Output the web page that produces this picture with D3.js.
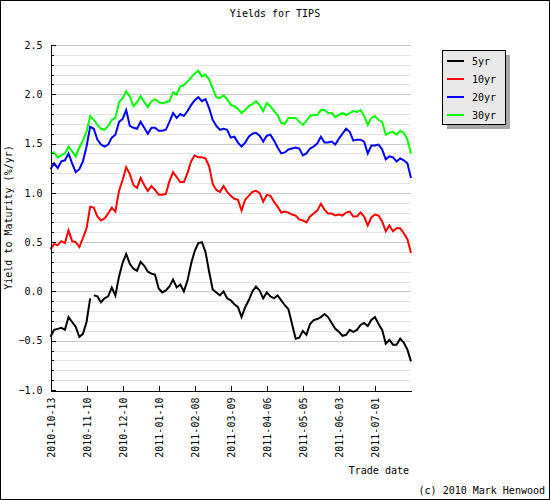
<!DOCTYPE html>
<html>
<head>
<meta charset="utf-8">
<script src="https://cdnjs.cloudflare.com/ajax/libs/d3/7.8.5/d3.min.js"></script>
<style>
body { margin: 0; background: #fff; }
text { font-family: "DejaVu Sans Mono", monospace; font-size: 10px; fill: #000; }
</style>
</head>
<body>
<svg id="chart" width="550" height="500"></svg>
<script>
// one sample every second trading day, tick label every 10 samples
var tickLabels = ["2010-10-13", "2010-11-10", "2010-12-10", "2011-01-10", "2011-02-08",
    "2011-03-09", "2011-04-06", "2011-05-05", "2011-06-03", "2011-07-01"];

var seriesNames = ["5yr", "10yr", "20yr", "30yr"];
var seriesColors = ["#000000", "#ff0000", "#0000ff", "#00ff00"];

var yr5 = [
    -0.46, -0.39, -0.38, -0.37, -0.39, -0.26, -0.31, -0.36, -0.46, -0.43,
    -0.31, -0.07, -0.04, -0.05, -0.11, -0.07, -0.05, 0.04, -0.04, 0.15,
    0.29, 0.38, 0.28, 0.23, 0.21, 0.30, 0.26, 0.20, 0.18, 0.17,
    0.03, -0.01, 0.01, 0.05, 0.12, 0.04, 0.07, 0.00, 0.11, 0.28,
    0.41, 0.49, 0.50, 0.40, 0.20, 0.02, -0.01, -0.04, 0.00, -0.07,
    -0.09, -0.13, -0.16, -0.26, -0.16, -0.09, 0.00, 0.05, 0.01, -0.07,
    -0.01, -0.05, -0.07, -0.04, -0.09, -0.14, -0.18, -0.33, -0.48, -0.47,
    -0.40, -0.44, -0.33, -0.29, -0.28, -0.26, -0.23, -0.26, -0.32, -0.38,
    -0.41, -0.45, -0.44, -0.39, -0.41, -0.39, -0.34, -0.32, -0.35, -0.29,
    -0.26, -0.33, -0.39, -0.53, -0.49, -0.54, -0.54, -0.48, -0.52, -0.59,
    -0.71
];
// missing quote in the 5yr data (between samples)
var yr5Missing = [11.5];

var yr10 = [
    0.43, 0.48, 0.47, 0.51, 0.49, 0.62, 0.51, 0.50, 0.45, 0.54,
    0.64, 0.86, 0.85, 0.76, 0.72, 0.74, 0.79, 0.85, 0.81, 1.02,
    1.13, 1.26, 1.19, 1.08, 1.05, 1.15, 1.08, 1.02, 1.07, 1.03,
    0.98, 0.98, 0.99, 1.12, 1.21, 1.16, 1.11, 1.11, 1.20, 1.32,
    1.38, 1.36, 1.36, 1.35, 1.27, 1.09, 1.03, 1.01, 1.07, 1.01,
    0.97, 0.94, 0.93, 0.82, 0.93, 0.97, 1.01, 1.02, 1.00, 0.91,
    0.98, 0.97, 0.91, 0.86, 0.80, 0.81, 0.80, 0.78, 0.77, 0.73,
    0.72, 0.70, 0.76, 0.79, 0.82, 0.89, 0.83, 0.79, 0.79, 0.77,
    0.78, 0.77, 0.80, 0.81, 0.76, 0.76, 0.80, 0.76, 0.67, 0.75,
    0.78, 0.77, 0.71, 0.61, 0.67, 0.61, 0.64, 0.64, 0.59, 0.53,
    0.39
];

var yr20 = [
    1.24, 1.30, 1.25, 1.32, 1.33, 1.40, 1.30, 1.21, 1.24, 1.32,
    1.47, 1.67, 1.65, 1.54, 1.49, 1.47, 1.49, 1.56, 1.59, 1.72,
    1.75, 1.84, 1.68, 1.66, 1.65, 1.72, 1.66, 1.60, 1.66, 1.66,
    1.63, 1.63, 1.64, 1.72, 1.81, 1.76, 1.80, 1.78, 1.83, 1.89,
    1.94, 1.97, 1.93, 1.95, 1.86, 1.74, 1.68, 1.64, 1.65, 1.64,
    1.56, 1.57, 1.51, 1.47, 1.51, 1.57, 1.60, 1.61, 1.58, 1.52,
    1.58, 1.59, 1.53, 1.46, 1.40, 1.41, 1.44, 1.45, 1.46, 1.45,
    1.38, 1.40, 1.45, 1.47, 1.50, 1.57, 1.51, 1.51, 1.52, 1.49,
    1.55, 1.60, 1.65, 1.62, 1.53, 1.54, 1.54, 1.52, 1.40, 1.48,
    1.48, 1.49, 1.44, 1.34, 1.37, 1.36, 1.32, 1.35, 1.33, 1.30,
    1.15
];

var yr30 = [
    1.40, 1.41, 1.36, 1.38, 1.40, 1.47, 1.42, 1.37, 1.46, 1.53,
    1.62, 1.78, 1.74, 1.69, 1.65, 1.64, 1.68, 1.74, 1.76, 1.92,
    1.96, 2.03, 1.98, 1.88, 1.92, 1.98, 1.92, 1.87, 1.93, 1.95,
    1.92, 1.91, 1.92, 1.93, 2.02, 2.00, 2.08, 2.09, 2.13, 2.17,
    2.21, 2.24, 2.18, 2.20, 2.15, 2.06, 1.97, 1.96, 1.99, 1.95,
    1.89, 1.88, 1.85, 1.81, 1.84, 1.88, 1.90, 1.93, 1.89, 1.83,
    1.91, 1.88, 1.83, 1.79, 1.71, 1.70, 1.76, 1.76, 1.76, 1.72,
    1.69, 1.73, 1.78, 1.79, 1.79, 1.84, 1.84, 1.81, 1.81, 1.77,
    1.79, 1.81, 1.79, 1.81, 1.83, 1.82, 1.84, 1.78, 1.69, 1.76,
    1.78, 1.74, 1.72, 1.59, 1.61, 1.62, 1.59, 1.63, 1.61, 1.54,
    1.40
];

var yMajor = [-1.0, -0.5, 0.0, 0.5, 1.0, 1.5, 2.0, 2.5];

var svg = d3.select("#chart"),
    width = +svg.attr("width"),
    height = +svg.attr("height");

svg.append("rect")
    .attr("x", 0.5).attr("y", 0.5)
    .attr("width", width - 1).attr("height", height - 1)
    .attr("fill", "#fff").attr("stroke", "#000");

var x = d3.scaleLinear().domain([0, yr5.length - 1]).range([50.5, 411]);
var y = d3.scaleLinear().domain([-1, 2.5]).range([390, 45]);

var yMinor = d3.range(-10, 26).map(function (d) { return d / 10; });

// grid
svg.append("g")
    .selectAll("line")
    .data(yMinor.filter(function (d) { return d > -1; }))
    .enter().append("line")
    .attr("x1", x.range()[0]).attr("x2", x.range()[1])
    .attr("y1", function (d) { return Math.round(y(d)) + 0.5; })
    .attr("y2", function (d) { return Math.round(y(d)) + 0.5; })
    .attr("stroke", function (d) {
        return Math.round(d * 10) % 5 === 0 ? "#c8c8c8" : "#e4e4e4";
    })
    .attr("shape-rendering", "crispEdges");

// series
var line = d3.line()
    .defined(function (d) { return d.v !== null; })
    .x(function (d) { return x(d.i); })
    .y(function (d) { return y(d.v); });

function toPoints(vals, missing) {
    var pts = vals.map(function (v, i) { return {i: i, v: v}; });
    (missing || []).forEach(function (m) { pts.push({i: m, v: null}); });
    return pts.sort(function (a, b) { return a.i - b.i; });
}

var series = [toPoints(yr5, yr5Missing), toPoints(yr10), toPoints(yr20), toPoints(yr30)];

svg.append("g")
    .selectAll("path")
    .data(series)
    .enter().append("path")
    .attr("d", line)
    .attr("fill", "none")
    .attr("stroke", function (d, i) { return seriesColors[i]; })
    .attr("stroke-width", 2)
    .attr("stroke-linejoin", "miter");

// axes
var yAxisMinor = svg.append("g")
    .attr("transform", "translate(50.5,0)")
    .call(d3.axisLeft(y)
        .tickValues(yMinor)
        .tickSizeInner(-3)
        .tickSizeOuter(0)
        .tickFormat(""));
yAxisMinor.select(".domain").remove();
yAxisMinor.selectAll("line").attr("shape-rendering", "crispEdges");

var yAxis = svg.append("g")
    .attr("transform", "translate(50.5,0)")
    .call(d3.axisLeft(y)
        .tickValues(yMajor)
        .tickSizeInner(-5)
        .tickSizeOuter(0)
        .tickPadding(8)
        .tickFormat(d3.format(".1f")));
yAxis.selectAll("text")
    .style("font-family", "DejaVu Sans Mono")
    .style("font-size", "10px");
yAxis.selectAll("line, path").attr("shape-rendering", "crispEdges");

var xAxis = svg.append("g")
    .attr("transform", "translate(0,390.5)")
    .call(d3.axisBottom(x)
        .tickValues(d3.range(0, 100, 10))
        .tickSizeInner(-5)
        .tickSizeOuter(0)
        .tickFormat(function (d, i) { return tickLabels[i]; }));
xAxis.selectAll("text")
    .style("font-family", "DejaVu Sans Mono")
    .style("font-size", "10px")
    .style("text-anchor", "end")
    .attr("transform", "rotate(-90)")
    .attr("x", -7)
    .attr("y", 0)
    .attr("dy", "0.35em");
xAxis.selectAll("line, path").attr("shape-rendering", "crispEdges");

// labels
svg.append("text")
    .attr("x", 275).attr("y", 17)
    .attr("text-anchor", "middle")
    .text("Yields for TIPS");

svg.append("text")
    .attr("transform", "translate(12," + ((y.range()[0] + y.range()[1]) / 2) + ") rotate(-90)")
    .attr("text-anchor", "middle")
    .text("Yield to Maturity (%/yr)");

svg.append("text")
    .attr("x", 409).attr("y", 474)
    .attr("text-anchor", "end")
    .text("Trade date");

svg.append("text")
    .attr("x", 545).attr("y", 494)
    .attr("text-anchor", "end")
    .text("(c) 2010 Mark Henwood");

// legend
var legend = svg.append("g").attr("transform", "translate(442,50)");

legend.append("rect")
    .attr("x", 4.5).attr("y", 4.5)
    .attr("width", 63).attr("height", 74)
    .attr("fill", "#a8a8a8")
    .attr("shape-rendering", "crispEdges");

legend.append("rect")
    .attr("x", 0.5).attr("y", 0.5)
    .attr("width", 63).attr("height", 74)
    .attr("fill", "#e8e8e8")
    .attr("stroke", "#000")
    .attr("shape-rendering", "crispEdges");

var entry = legend.selectAll(".entry")
    .data(seriesNames)
    .enter().append("g")
    .attr("class", "entry")
    .attr("transform", function (d, i) { return "translate(0," + (11 + i * 18) + ")"; });

entry.append("line")
    .attr("x1", 5).attr("x2", 22)
    .attr("y1", 0).attr("y2", 0)
    .attr("stroke", function (d, i) { return seriesColors[i]; })
    .attr("stroke-width", 2)
    .attr("shape-rendering", "crispEdges");

entry.append("text")
    .attr("x", 30)
    .attr("dy", "0.35em")
    .text(function (d) { return d; });
</script>
</body>
</html>
